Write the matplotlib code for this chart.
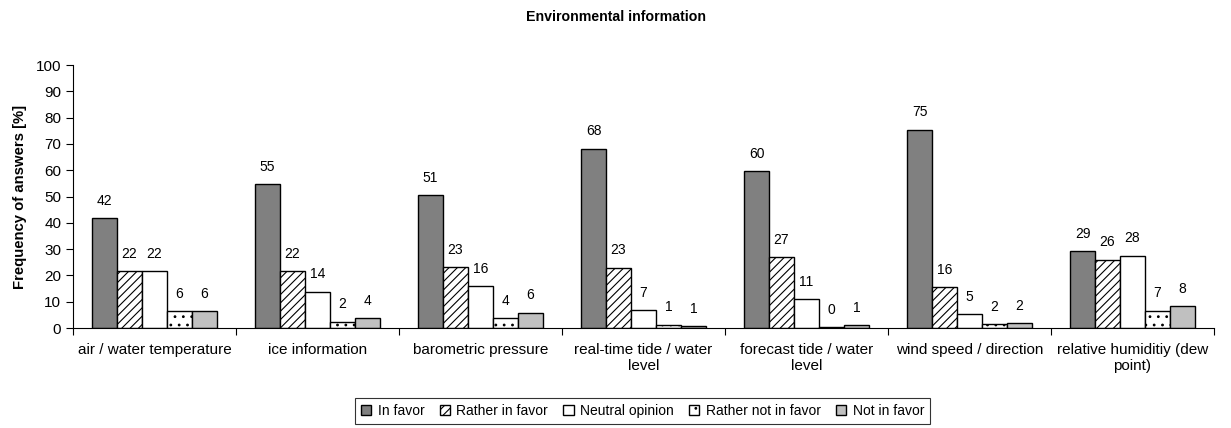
import matplotlib.pyplot as plt
import numpy as np

plt.rcParams['font.family'] = ['Liberation Sans', 'DejaVu Sans']
plt.rcParams['hatch.linewidth'] = 0.8

categories = ['air / water temperature', 'ice information', 'barometric pressure',
              'real-time tide / water\nlevel', 'forecast tide / water\nlevel',
              'wind speed / direction', 'relative humiditiy (dew\npoint)']
series = ['In favor', 'Rather in favor', 'Neutral opinion', 'Rather not in favor', 'Not in favor']

in_favor = [41.7, 54.7, 50.5, 68.2, 59.7, 75.4, 29.3]
rather_in_favor = [21.7, 21.7, 23.2, 23.0, 27.0, 15.5, 26.0]
neutral = [21.7, 13.8, 15.8, 6.8, 11.0, 5.3, 27.5]
rather_not = [6.3, 2.4, 3.8, 1.3, 0.3, 1.5, 6.6]
not_in_favor = [6.3, 3.8, 5.8, 0.6, 1.2, 1.9, 8.2]
labels = [[42, 55, 51, 68, 60, 75, 29],
          [22, 22, 23, 23, 27, 16, 26],
          [22, 14, 16, 7, 11, 5, 28],
          [6, 2, 4, 1, 0, 2, 7],
          [6, 4, 6, 1, 1, 2, 8]]

values = [in_favor, rather_in_favor, neutral, rather_not, not_in_favor]
colors = ['#808080', 'white', 'white', 'white', '#c0c0c0']
hatches = [None, '////', None, '..', None]

fig = plt.figure(figsize=(12.31, 4.28), dpi=100)
ax = fig.add_axes([73 / 1231, 0.2336, 1141 / 1231, 263 / 428])

x = np.arange(len(categories))
w = 0.153
for i, (vals, name) in enumerate(zip(values, series)):
    pos = x - 2 * w + i * w
    ax.bar(pos, vals, width=w, color=colors[i], edgecolor='black', linewidth=1,
           hatch=hatches[i], label=name)
    for xp, v, lab in zip(pos, vals, labels[i]):
        ax.annotate(str(lab), (xp, v), xytext=(0, 12.5), textcoords='offset points',
                    ha='center', va='center', fontsize=10)

ax.set_xlim(-0.5, len(categories) - 0.5)
ax.set_ylim(0, 100)
ax.set_yticks(range(0, 101, 10))
ax.set_xticks(np.arange(len(categories) + 1) - 0.5)
ax.set_xticklabels([])
ax.set_xticks(x, minor=True)
ax.set_xticklabels(categories, minor=True, fontsize=11, linespacing=1.15)
ax.tick_params(axis='x', which='minor', length=0, pad=11)
ax.tick_params(axis='x', which='major', length=5, direction='out')
ax.tick_params(axis='y', labelsize=11, length=5)
ax.spines['top'].set_visible(False)
ax.spines['right'].set_visible(False)
ax.set_ylabel('Frequency of answers [%]', fontsize=10.7, fontweight='bold', labelpad=6)

fig.text(0.5, 0.96, 'Environmental information', ha='center', va='center',
         fontsize=10.2, fontweight='bold')

leg = fig.legend(loc='center', bbox_to_anchor=(642.5 / 1231, 1 - 411 / 428), ncol=5,
                 fontsize=10, frameon=True, fancybox=False, handlelength=0.75,
                 handleheight=0.75, handletextpad=0.45, columnspacing=1.1,
                 borderpad=0.4, borderaxespad=0)
leg.get_frame().set_edgecolor('black')
leg.get_frame().set_linewidth(0.8)

plt.savefig('out.png', dpi=100)
